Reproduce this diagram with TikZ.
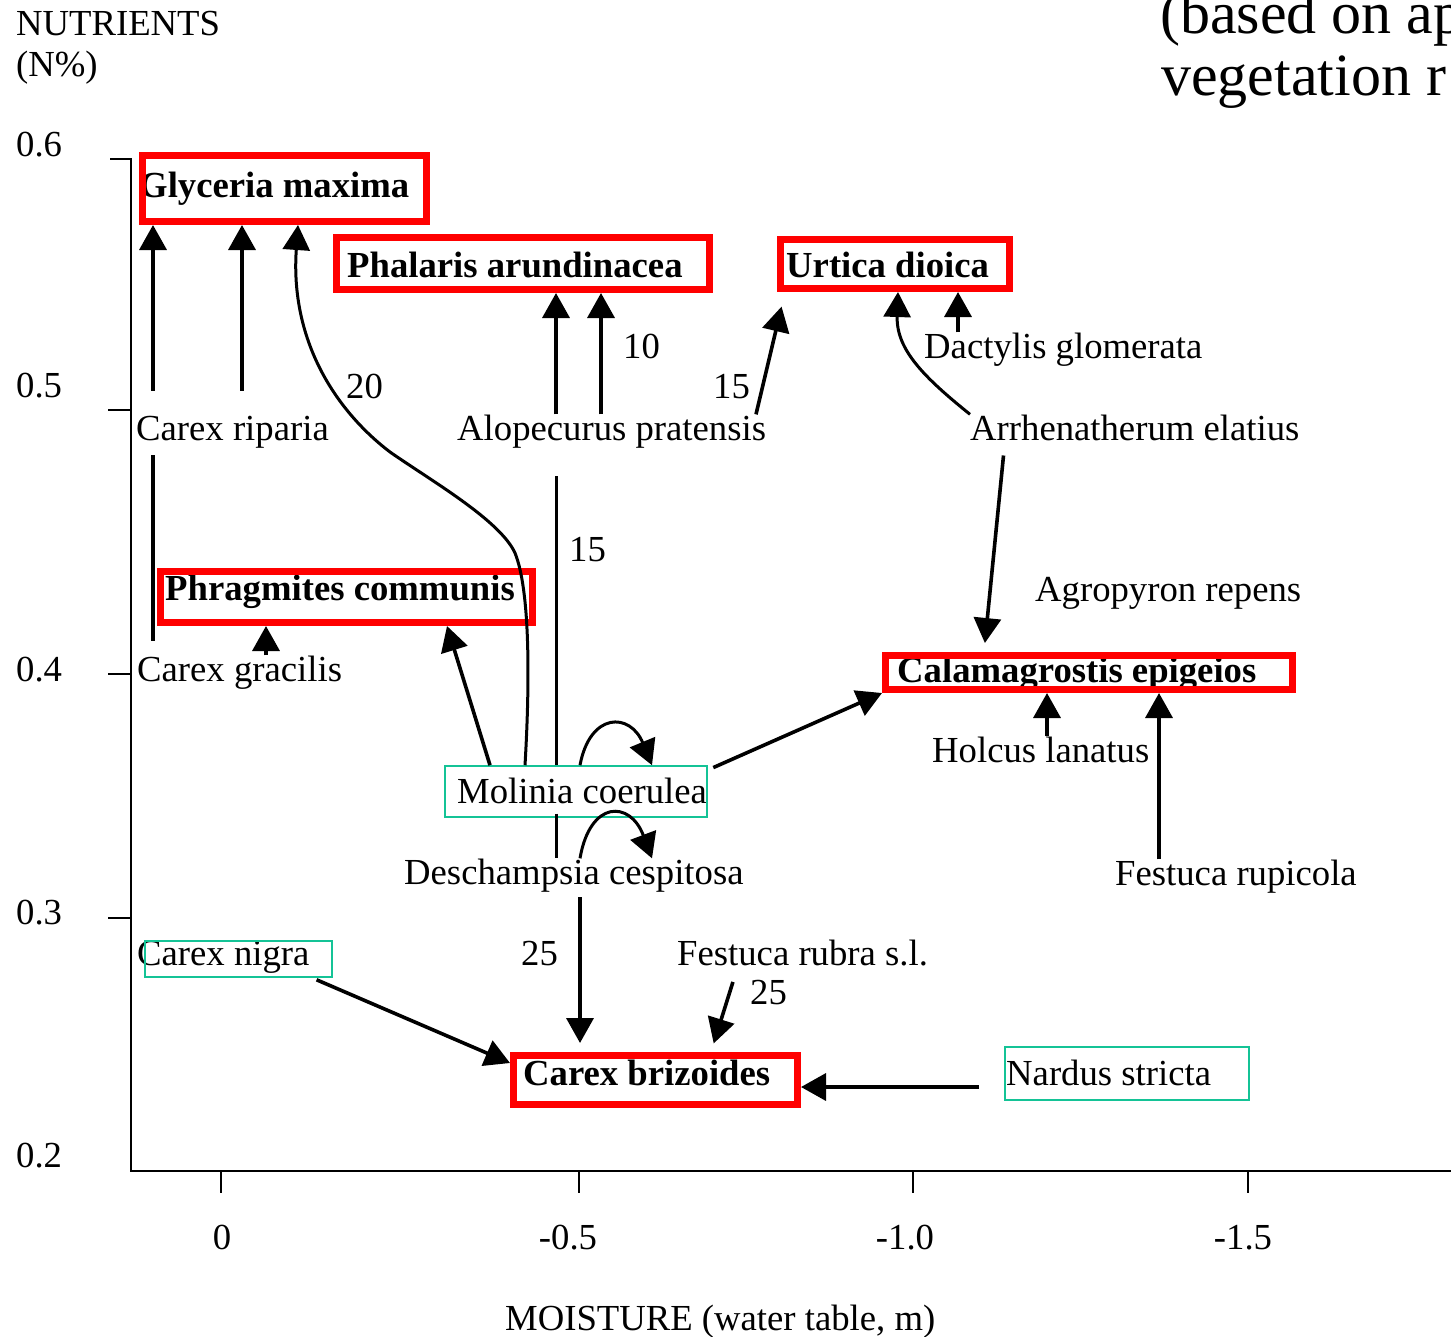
\documentclass[tikz,border=0pt]{standalone}
\usepackage{fontspec}
\setmainfont{Liberation Serif}
\usetikzlibrary{arrows.meta}
\definecolor{boxcyan}{RGB}{20,195,150}
\tikzset{
  lab/.style={font=\fontsize{36.7}{44}\selectfont, inner sep=0pt, anchor=base west},
  blab/.style={lab, font=\fontsize{36.7}{44}\selectfont\bfseries},
  ticklab/.style={font=\fontsize{36.7}{44}\selectfont, inner sep=0pt, anchor=base},
  redbox/.style={draw=red, line width=7pt, inner sep=0pt},
  cyanbox/.style={draw=boxcyan, line width=1.6pt, inner sep=0pt},
  arr/.style={line width=3.6pt, -{Triangle[length=25pt,width=27pt]}},
  axisline/.style={line width=2pt},
}
\begin{document}
\begin{tikzpicture}[x=1pt,y=-1pt]
\useasboundingbox (0,0) rectangle (1451,1336);

% title (cut off at the right edge)
\node[lab, font=\fontsize{60}{62}\selectfont] (ttl1) at (1160,33) {(based on ap};
\node[lab, font=\fontsize{60}{62}\selectfont] (ttl2) at (1161,95) {vegetation r};

% axes
\node[lab] (ylab1) at (16,35) {NUTRIENTS};
\node[lab] (ylab2) at (16,76) {(N\%)};
\draw[axisline] (110,159) -- (131,159) -- (131,1171) -- (1451,1171);
\draw[axisline] (108,410) -- (131,410);
\draw[axisline] (108,674) -- (131,674);
\draw[axisline] (108,918) -- (131,918);
\foreach \xx in {221,579,913,1248}{\draw[axisline] (\xx,1171) -- (\xx,1193);}
\node[lab] (y6) at (16,156) {0.6};
\node[lab] (y5) at (16,397) {0.5};
\node[lab] (y4) at (16,681) {0.4};
\node[lab] (y3) at (16,924) {0.3};
\node[lab] (y2) at (16,1167) {0.2};
\node[ticklab] (x0) at (222,1249) {0};
\node[ticklab] (x1) at (568,1249) {-0.5};
\node[ticklab] (x2) at (905,1249) {-1.0};
\node[ticklab] (x3) at (1243,1249) {-1.5};
\node[lab] (xlab) at (505,1330) {MOISTURE (water table, m)};

% plain labels
\node[lab] (crip) at (136,440) {Carex riparia};
\node[lab] (alop) at (457,440) {Alopecurus pratensis};
\node[lab] (arrh) at (970,440) {Arrhenatherum elatius};
\node[lab] (dact) at (924,358) {Dactylis glomerata};
\node[lab] (n10) at (623,358) {10};
\node[lab] (n20) at (346,398) {20};
\node[lab] (n15a) at (713,398) {15};
\node[lab] (n15b) at (569,561) {15};
\node[lab] (agro) at (1035,601) {Agropyron repens};
\node[lab] (cgra) at (137,681) {Carex gracilis};
\node[lab] (holc) at (932,762) {Holcus lanatus};
\node[lab] (moli) at (457,803) {Molinia coerulea};
\node[lab] (desc) at (404,884) {Deschampsia cespitosa};
\node[lab] (frup) at (1115,885) {Festuca rupicola};
\node[lab] (cnig) at (137,965) {Carex nigra};
\node[lab] (n25a) at (521,965) {25};
\node[lab] (frub) at (677,965) {Festuca rubra s.l.};
\node[lab] (n25b) at (750,1004) {25};
\node[lab] (nard) at (1006,1085) {Nardus stricta};

% bold labels
\node[blab] (glyT) at (139,197) {Glyceria maxima};
\node[blab] (phaT) at (347,277) {Phalaris arundinacea};
\node[blab] (urtT) at (786,277) {Urtica dioica};
\node[blab] (phrT) at (165,600) {Phragmites communis};
\node[blab] (calT) at (897,682) {Calamagrostis epigeios};
\node[blab] (cbrT) at (523,1085) {Carex brizoides};

% boxes
\node[redbox, minimum width=284pt, minimum height=66pt] (glyB) at (284.5,188.5) {};
\node[redbox, minimum width=373pt, minimum height=52pt] (phaB) at (523,263.5) {};
\node[redbox, minimum width=229pt, minimum height=49pt] (urtB) at (895,264) {};
\node[redbox, minimum width=372pt, minimum height=51pt] (phrB) at (346.5,597) {};
\node[redbox, minimum width=407pt, minimum height=34pt] (calB) at (1089,672.5) {};
\node[redbox, minimum width=284pt, minimum height=49pt] (cbrB) at (655.5,1080) {};
\node[cyanbox, minimum width=262pt, minimum height=51pt] (molB) at (576,791.5) {};
\node[cyanbox, minimum width=187pt, minimum height=36pt] (cnigB) at (238.5,959) {};
\node[cyanbox, minimum width=244pt, minimum height=53pt] (nardB) at (1127,1073.5) {};

% connectors
\draw[arr, shorten <=25pt] (crip.north -| 153,0) -- (glyB.south -| 153,0);
\draw[arr, shorten <=25pt] (crip.north -| 242,0) -- (glyB.south -| 242,0);
\draw[arr, line width=3pt] (molB.north -| 525,0) .. controls (530,680) and (530,590) .. (515,553)
   .. controls (500,520) and (430,480) .. (390,452)
   .. controls (335,410) and (290,340) .. (glyB.south -| 298,0);
\draw[arr] (alop.north -| 556,0) -- (phaB.south -| 556,0);
\draw[arr] (alop.north -| 601,0) -- (phaB.south -| 601,0);
\draw[arr, shorten >=15pt] (alop.north -| 756,0) -- (urtB.south -| 785,0);
\draw[arr, line width=3pt] (arrh.north west) .. controls (925,378) and (896,350) .. (urtB.south -| 898,0);
\draw[arr] (dact.north -| 958,0) -- (urtB.south -| 958,0);
\draw[arr, shorten <=15pt, shorten >=9pt] (arrh.south -| 1005,0) -- (calB.north -| 984,0);
\draw[line width=3.6pt, shorten <=7pt, shorten >=14pt] (crip.south -| 153,0) -- (cgra.north -| 153,0);
\draw[arr] (cgra.north -| 266,0) -- (phrB.south -| 266,0);
\draw[arr] (molB.north -| 490,0) -- (phrB.south -| 447,0);
\draw[line width=3pt, shorten <=28pt] (alop.south -| 556,0) -- (molB.north -| 556,0);
\draw[line width=3pt, shorten <=10pt] (moli.south -| 556,0) -- (desc.north -| 556,0);
\draw[arr, line width=3pt] (molB.north -| 580,0) .. controls (590,712) and (630,712) .. (molB.north -| 652,0);
\draw[arr, line width=3pt] (desc.north -| 580,0) .. controls (590,800) and (630,800) .. (desc.north -| 652,0);
\draw[arr, shorten <=6pt] (molB.east |- 0,770) -- (calB.south west);
\draw[arr, shorten <=5pt, shorten >=9pt] (desc.south -| 580,0) -- (cbrB.north -| 580,0);
\draw[arr, shorten <=17pt, shorten >=9pt] (frub.south -| 738,0) -- (cbrB.north -| 711,0);
\draw[arr, shorten <=5pt] (cnigB.south -| 312,0) -- ([yshift=17pt]cbrB.west);
\draw[arr, shorten <=25pt] (nardB.west |- 0,1087) -- (cbrB.east |- 0,1087);
\draw[arr] (holc.north -| 1047,0) -- (calB.south -| 1047,0);
\draw[arr] (frup.north -| 1159,0) -- (calB.south -| 1159,0);
\end{tikzpicture}
\end{document}
